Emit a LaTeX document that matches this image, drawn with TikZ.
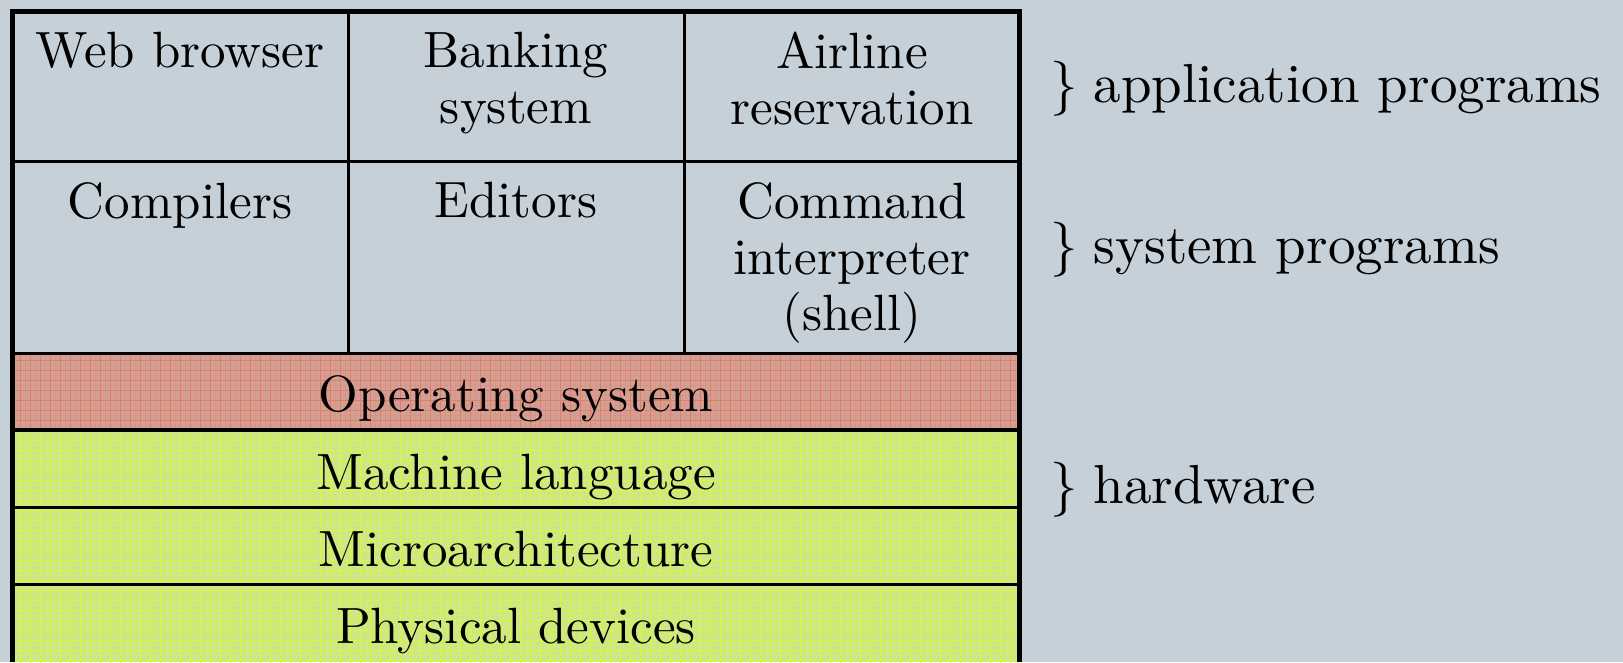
\documentclass[tikz,border=0pt]{standalone}
\usepackage{fontspec}
\setmainfont{lmroman10-regular}[Extension=.otf]
\definecolor{bg}{HTML}{C5D0D8}
\definecolor{osfill}{HTML}{D4A096}
\definecolor{osgrid}{HTML}{DE8068}
\definecolor{hwfill}{HTML}{CDE68B}
\definecolor{hwgrid}{HTML}{D8F838}
\begin{document}
\begin{tikzpicture}[x=1pt,y=-1pt,
  cell/.style={anchor=north, align=center, inner sep=0pt, font=\fontsize{51}{56}\selectfont},
  band/.style={anchor=base, inner sep=0pt, font=\fontsize{51}{56}\selectfont},
  lbl/.style={anchor=base west, inner sep=0pt, font=\fontsize{55}{60}\selectfont},
  frame/.style={line width=5pt, black},
  rule/.style={line width=3pt, black},
  major/.style={line width=0.9pt},
  minor/.style={line width=0.6pt, opacity=0.3}]
\useasboundingbox (0,0) rectangle (1623,662);
\fill[bg] (0,0) rectangle (1623,662);
% operating system band
\begin{scope}
  \clip (12,354) rectangle (1020,430);
  \fill[osfill] (12,354) rectangle (1020,430);
  \draw[osgrid, minor, step=5pt] (10,350) grid (1025,435);
  \draw[osgrid, major, step=10pt] (10,350) grid (1025,435);
\end{scope}
% hardware bands
\begin{scope}
  \clip (12,430) rectangle (1020,662);
  \fill[hwfill] (12,430) rectangle (1020,662);
  \draw[hwgrid, minor, step=5pt] (10,425) grid (1025,665);
  \draw[hwgrid, major, step=10pt] (10,425) grid (1025,665);
\end{scope}
% rules
\draw[rule] (348.5,11) -- (348.5,354);
\draw[rule] (684,11) -- (684,354);
\draw[rule] (12,161.5) -- (1020,161.5);
\draw[rule] (12,353.5) -- (1020,353.5);
\draw[rule, line width=3.5pt] (12,430) -- (1020,430);
\draw[rule] (12,507.5) -- (1020,507.5);
\draw[rule] (12,584.5) -- (1020,584.5);
% frame
\draw[frame] (12,662) -- (12,11) -- (1019.5,11) -- (1019.5,662);
% cell texts
\node[cell] (web) at (180,32) {Web browser};
\node[cell] (bank) at (516,32) {Banking\\system};
\node[cell] (air) at (852,32) {Airline\\reservation};
\node[cell] (comp) at (180,182) {Compilers};
\node[cell] (edit) at (516,182) {Editors};
\node[cell] (cmd) at (852,182) {Command\\interpreter\\(shell)};
\node[band] (os) at (516,411) {Operating system};
\node[band] (ml) at (516,489) {Machine language};
\node[band] (micro) at (516,566) {Microarchitecture};
\node[band] (phys) at (516,643) {Physical devices};
% right labels
\node[lbl] (app) at (1050,102) {\}\kern16pt application programs};
\node[lbl] (sys) at (1050,263) {\}\kern16pt system programs};
\node[lbl] (hw) at (1050,503) {\}\kern16pt hardware};
\end{tikzpicture}
\end{document}
